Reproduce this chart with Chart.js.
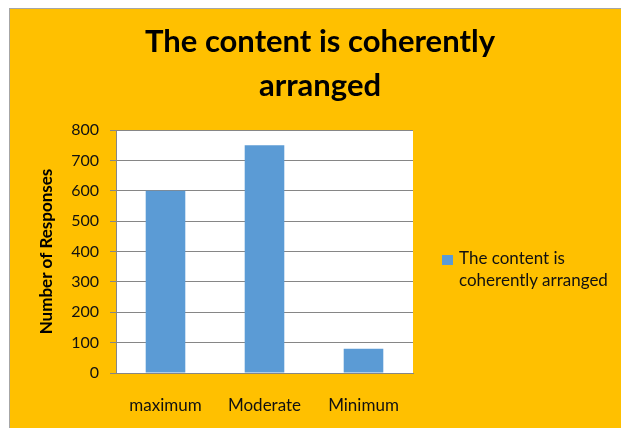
<!DOCTYPE html>
<html>
<head>
<meta charset="utf-8">
<script src="https://cdn.jsdelivr.net/npm/chart.js@4/dist/chart.umd.min.js"></script>
<style>
  body { margin: 0; background: #fff; }
  #frame {
    position: absolute; left: 9px; top: 8px;
    width: 611px; height: 419px;
    background: #FFC000;
    border-left: 1px solid #a6a6a6; border-top: 1px solid #a6a6a6;
  }
  #legend {
    position: absolute; left: 432px; top: 238px;
    font-family: Lato, sans-serif; font-size: 17px; line-height: 22px; color: #111;
  }
  #legend .box {
    position: absolute; left: 0; top: 8px; width: 11px; height: 10px; background: #5B9BD5;
  }
  #legend .txt { position: absolute; left: 17px; top: 0; white-space: nowrap; }
</style>
</head>
<body>
<div id="frame">
  <canvas id="chart" width="611" height="419"></canvas>
  <div id="legend"><span class="box"></span><span class="txt">The content is<br>coherently arranged</span></div>
</div>
<script>
const categories = ["maximum", "Moderate", "Minimum"];
const responses = [600, 750, 80];
const seriesName = "The content is coherently arranged";
const titleLines = ["The content is coherently", "arranged"];
const yTitle = "Number of Responses";

// white plot area like the Excel chart
const plotBg = {
  id: "plotBg",
  beforeDraw: chart => {
    const { ctx, chartArea: a } = chart;
    ctx.save();
    ctx.fillStyle = "#fff";
    ctx.fillRect(a.left, a.top, a.right - a.left, a.bottom - a.top);
    ctx.restore();
  }
};

const ctx = document.getElementById("chart").getContext("2d");
new Chart(ctx, {
  type: "bar",
  data: {
    labels: categories,
    datasets: [{
      label: seriesName,
      data: responses,
      backgroundColor: "#5B9BD5",
      barPercentage: 0.4,
      categoryPercentage: 1
    }]
  },
  options: {
    responsive: false,
    animation: false,
    layout: { padding: { left: 9, right: 0, top: 0, bottom: 0 } },
    plugins: {
      legend: { display: false },
      tooltip: { enabled: false },
      title: {
        display: true,
        text: titleLines,
        color: "#000",
        font: { family: "Lato", size: 31, weight: "bold", lineHeight: 44 / 31 },
        padding: { top: 11, bottom: 22 }
      }
    },
    scales: {
      x: {
        grid: { display: true, drawOnChartArea: false, drawTicks: false },
        border: { color: "#868686" },
        ticks: { color: "#111", font: { family: "Lato", size: 17 }, padding: 22 },
        afterFit: scale => { scale.height = 55; }
      },
      y: {
        min: 0,
        max: 800,
        ticks: { stepSize: 100, color: "#111", font: { family: "Lato", size: 16 }, padding: 11 },
        grid: { color: "#868686", tickLength: 6 },
        border: { color: "#868686" },
        title: {
          display: true,
          text: yTitle,
          color: "#000",
          font: { family: "Lato", size: 17, weight: "bold" },
          padding: { top: 17 }
        },
        afterFit: scale => { scale.width = 97; }
      },
      // empty right axis: keeps room for the legend without moving the title
      side: {
        position: "right",
        display: true,
        grid: { display: false },
        border: { display: false },
        ticks: { display: false },
        afterFit: scale => { scale.width = 208; }
      }
    }
  },
  plugins: [plotBg]
});
</script>
</body>
</html>
